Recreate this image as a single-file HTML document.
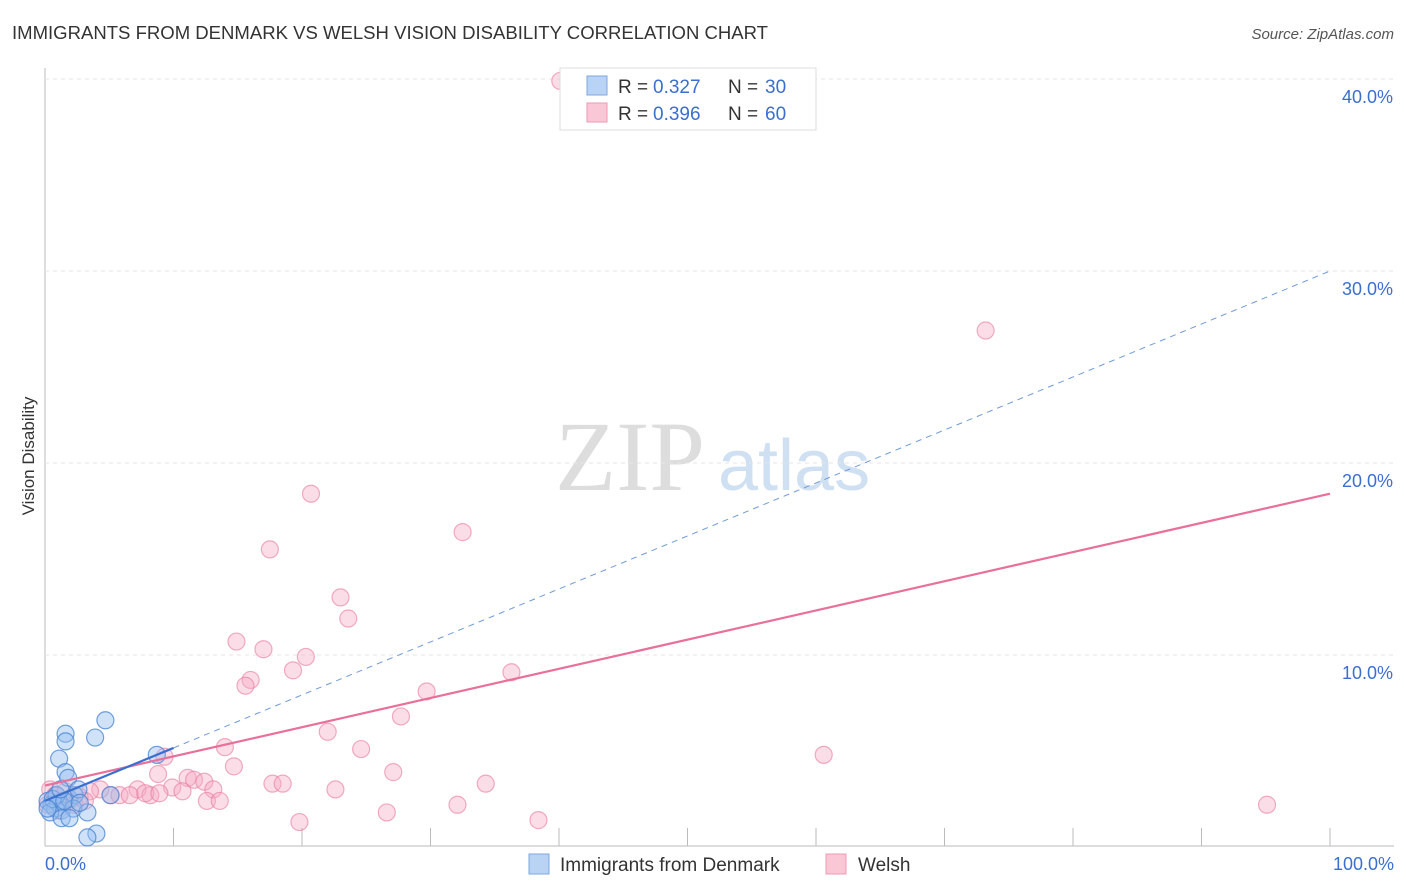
<!DOCTYPE html>
<html><head><meta charset="utf-8"><style>
body{margin:0;background:#fff;font-family:"Liberation Sans",sans-serif}
svg{display:block}
</style></head><body>
<svg id="c" width="1406" height="892">
<text x="12" y="39" font-size="18" fill="#333" textLength="756" lengthAdjust="spacingAndGlyphs">IMMIGRANTS FROM DENMARK VS WELSH VISION DISABILITY CORRELATION CHART</text>
<text x="1394" y="39" font-size="15" fill="#555" font-style="italic" text-anchor="end">Source: ZipAtlas.com</text>
<text x="34" y="456" font-size="17" fill="#333" transform="rotate(-90 34 456)" text-anchor="middle">Vision Disability</text>
<text x="555" y="490" font-size="100" fill="#ddd" font-family="Liberation Serif,serif">ZIP</text>
<text x="718" y="490" font-size="72" fill="#cfe0f3">atlas</text>
<g id="grid"></g><g id="pts"></g><g id="lines"></g>
<g>
<rect x="560" y="68" width="256" height="62" fill="#fff" stroke="#ddd"/>
<rect x="587" y="76" width="20" height="19" fill="#b9d3f5" stroke="#7ea7e0"/>
<text x="618" y="93" font-size="19" fill="#333">R = </text>
<text x="653" y="93" font-size="19" fill="#3a6fd0">0.327</text>
<text x="728" y="93" font-size="19" fill="#333">N = </text>
<text x="765" y="93" font-size="19" fill="#3a6fd0">30</text>
<rect x="587" y="103" width="20" height="19" fill="#f9c7d6" stroke="#ee9ab4"/>
<text x="618" y="120" font-size="19" fill="#333">R = </text>
<text x="653" y="120" font-size="19" fill="#3a6fd0">0.396</text>
<text x="728" y="120" font-size="19" fill="#333">N = </text>
<text x="765" y="120" font-size="19" fill="#3a6fd0">60</text>
</g>
<g>
<rect x="529" y="854" width="20" height="20" fill="#b9d3f5" stroke="#7ea7e0"/>
<text x="560" y="871" font-size="19" fill="#333">Immigrants from Denmark</text>
<rect x="826" y="854" width="20" height="20" fill="#f9c7d6" stroke="#ee9ab4"/>
<text x="858" y="871" font-size="19" fill="#333">Welsh</text>
</g>
<text x="45" y="870" font-size="18" fill="#3a6fd0">0.0%</text>
<text x="1394" y="870" font-size="18" fill="#3a6fd0" text-anchor="end">100.0%</text>
</svg>
<script>
const yTicks=[10,20,30,40];
const yTickLabels=["10.0%","20.0%","30.0%","40.0%"];
const blueX=[1.6,1.6,4.7,3.9,1.1,1.6,1.8,8.7,0.2,0.5,0.8,1.0,1.3,0.4,1.9,2.3,2.2,3.3,1.3,1.9,2.6,5.1,4.0,3.3,0.9,0.6,1.5,0.2,2.7,1.2];
const blueY=[5.9,5.5,6.6,5.7,4.6,3.9,3.6,4.8,2.4,2.2,2.0,2.3,1.9,1.8,2.5,2.7,2.0,1.8,1.5,1.5,3.0,2.7,0.7,0.5,2.7,2.5,2.4,2.0,2.3,3.0];
const pinkX=[40.1,73.2,20.7,32.5,17.5,23.0,23.6,14.9,17.0,20.3,19.3,16.0,15.6,36.3,29.7,27.7,22.0,14.0,24.6,60.6,9.3,14.7,27.1,8.8,11.1,11.6,12.4,17.7,18.5,34.3,22.6,9.9,10.7,13.1,7.2,8.2,5.1,5.8,6.6,4.3,3.5,12.6,13.6,32.1,95.1,26.6,19.8,38.4,0.4,0.8,1.3,1.9,2.7,0.2,1.0,2.3,1.6,7.8,8.9,3.1];
const pinkY=[39.9,26.9,18.4,16.4,15.5,13.0,11.9,10.7,10.3,9.9,9.2,8.7,8.4,9.1,8.1,6.8,6.0,5.2,5.1,4.8,4.7,4.2,3.9,3.8,3.6,3.5,3.4,3.3,3.3,3.3,3.0,3.1,2.9,3.0,3.0,2.7,2.7,2.7,2.7,3.0,2.9,2.4,2.4,2.2,2.2,1.8,1.3,1.4,3.0,2.7,2.4,2.4,2.6,2.2,1.9,2.2,2.9,2.8,2.8,2.4];
const blueFit=[2.4,0.276];
const pinkFit=[3.2,0.152];
const NS="http://www.w3.org/2000/svg";
const sx=v=>45+12.85*v, sy=v=>847-19.2*v;
function mk(t,a,p){const e=document.createElementNS(NS,t);for(const k in a)e.setAttribute(k,a[k]);p.appendChild(e);return e;}
const grid=document.getElementById('grid');
let ax=mk('line',{x1:45,y1:68,x2:45,y2:846,stroke:'#bbb'},grid);


let bx=mk('line',{x1:45,y1:846,x2:1394,y2:846,stroke:'#bbb'},grid);


yTicks.forEach((t,i)=>{
 const g=mk('line',{x1:45,y1:sy(t),x2:1394,y2:sy(t),stroke:'#e6e6e6','stroke-dasharray':'4,4'},grid);
 
 
 const l=mk('text',{x:1393,y:sy(t)+24,'font-size':18,fill:'#3a6fd0','text-anchor':'end'},grid);
 l.textContent=yTickLabels[i];
 
 
});
for(let v=10;v<=100;v+=10){
 const t=mk('line',{x1:sx(v),y1:828,x2:sx(v),y2:846,stroke:'#bbb'},grid);
 
 
}
const pts=document.getElementById('pts');
pinkX.forEach((x,i)=>{
 const c=mk('circle',{cx:sx(x),cy:sy(pinkY[i]),r:8.5,fill:'rgba(246,170,195,0.4)',stroke:'rgba(232,120,158,0.6)','stroke-width':1.2},pts);
 
 
});
blueX.forEach((x,i)=>{
 const c=mk('circle',{cx:sx(x),cy:sy(blueY[i]),r:8.5,fill:'rgba(150,190,240,0.45)',stroke:'rgba(70,130,210,0.75)','stroke-width':1.2},pts);
 
 
});
const L=document.getElementById('lines');
let p=mk('line',{x1:sx(0),y1:sy(pinkFit[0]),x2:sx(100),y2:sy(pinkFit[0]+100*pinkFit[1]),stroke:'#e8709a','stroke-width':2.2},L);


let bd=mk('line',{x1:sx(10),y1:sy(blueFit[0]+10*blueFit[1]),x2:sx(100),y2:sy(blueFit[0]+100*blueFit[1]),stroke:'#6f9ad8','stroke-width':1,'stroke-dasharray':'6,5'},L);


let bs=mk('line',{x1:sx(0),y1:sy(blueFit[0]),x2:sx(10),y2:sy(blueFit[0]+10*blueFit[1]),stroke:'#3a6fd0','stroke-width':2.2},L);


</script>
</body></html>
